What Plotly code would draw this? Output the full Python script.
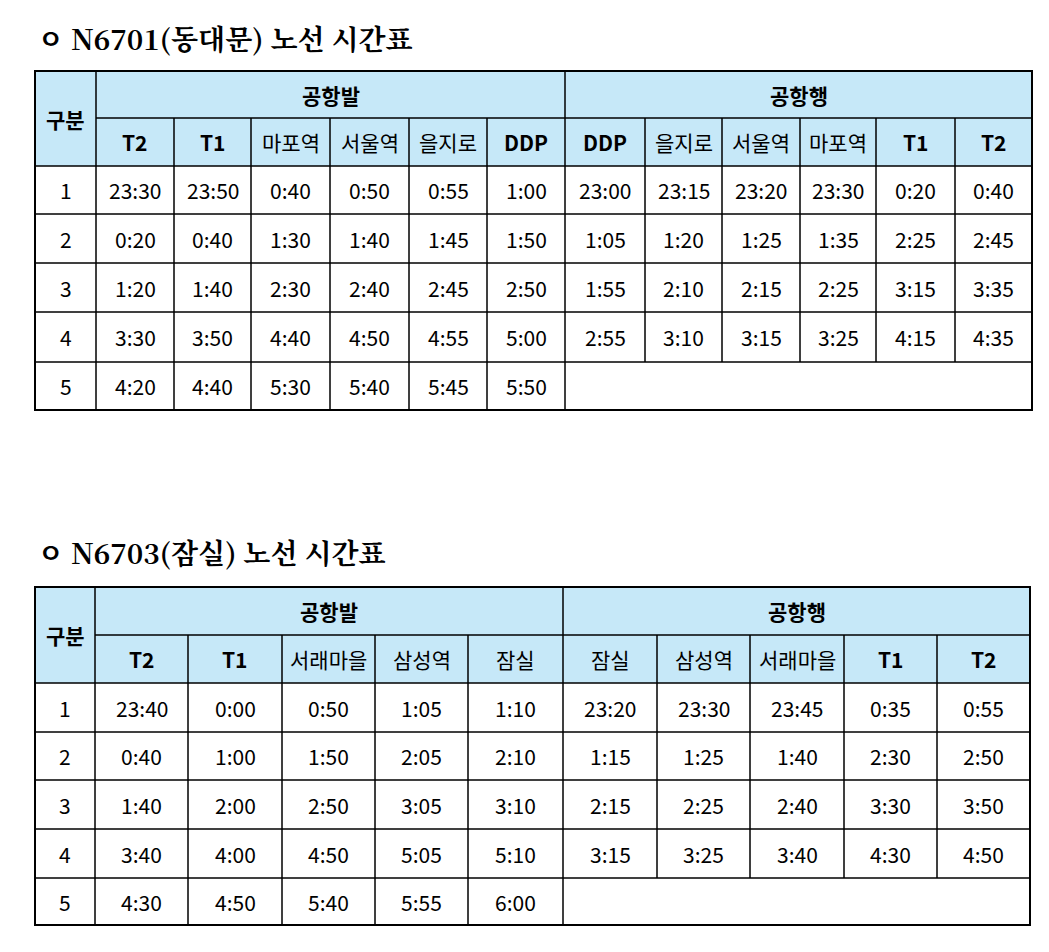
import plotly.graph_objects as go

# ---- data ----
title1 = "ㅇ N6701(동대문) 노선 시간표"
groups1 = ["공항발", "공항행"]
cols1 = ["T2", "T1", "마포역", "서울역", "을지로", "DDP", "DDP", "을지로", "서울역", "마포역", "T1", "T2"]
runs1 = ["1", "2", "3", "4", "5"]
times1 = [
    ["23:30", "23:50", "0:40", "0:50", "0:55", "1:00", "23:00", "23:15", "23:20", "23:30", "0:20", "0:40"],
    ["0:20", "0:40", "1:30", "1:40", "1:45", "1:50", "1:05", "1:20", "1:25", "1:35", "2:25", "2:45"],
    ["1:20", "1:40", "2:30", "2:40", "2:45", "2:50", "1:55", "2:10", "2:15", "2:25", "3:15", "3:35"],
    ["3:30", "3:50", "4:40", "4:50", "4:55", "5:00", "2:55", "3:10", "3:15", "3:25", "4:15", "4:35"],
    ["4:20", "4:40", "5:30", "5:40", "5:45", "5:50"],
]

title2 = "ㅇ N6703(잠실) 노선 시간표"
groups2 = ["공항발", "공항행"]
cols2 = ["T2", "T1", "서래마을", "삼성역", "잠실", "잠실", "삼성역", "서래마을", "T1", "T2"]
runs2 = ["1", "2", "3", "4", "5"]
times2 = [
    ["23:40", "0:00", "0:50", "1:05", "1:10", "23:20", "23:30", "23:45", "0:35", "0:55"],
    ["0:40", "1:00", "1:50", "2:05", "2:10", "1:15", "1:25", "1:40", "2:30", "2:50"],
    ["1:40", "2:00", "2:50", "3:05", "3:10", "2:15", "2:25", "2:40", "3:30", "3:50"],
    ["3:40", "4:00", "4:50", "5:05", "5:10", "3:15", "3:25", "3:40", "4:30", "4:50"],
    ["4:30", "4:50", "5:40", "5:55", "6:00"],
]

# ---- layout geometry (pixels) ----
FONT = "Noto Sans CJK KR"
HEAD = "#c6e8f8"
shapes, anns = [], []


def text(x, y, s, size=21, bold=False, anchor="center", family=FONT):
    anns.append(dict(x=x, y=y, xref="x", yref="y", text=f"<b>{s}</b>" if bold else s,
                     showarrow=False, xanchor=anchor, yanchor="middle",
                     font=dict(family=family, size=size, color="black")))


def rect(x0, y0, x1, y1, fill=None, w=1):
    shapes.append(dict(type="rect", x0=x0, y0=y0, x1=x1, y1=y1, xref="x", yref="y",
                       line=dict(color="black", width=w),
                       fillcolor=fill if fill else "rgba(0,0,0,0)", layer="below" if fill else "above"))


def table(title, title_y, xs, ys, groups, cols, runs, times):
    text(xs[0], title_y, title, size=28, bold=True, anchor="left", family="Noto Serif CJK KR, Noto Sans CJK KR")
    n = len(cols)
    half = n // 2
    rect(xs[0], ys[0], xs[-1], ys[2], fill=HEAD, w=0)
    rect(xs[0], ys[0], xs[1], ys[2])
    text((xs[0] + xs[1]) / 2, (ys[0] + ys[2]) / 2, "구분", bold=True)
    for g, (a, b) in zip(groups, [(1, half + 1), (half + 1, n + 1)]):
        rect(xs[a], ys[0], xs[b], ys[1])
        text((xs[a] + xs[b]) / 2, (ys[0] + ys[1]) / 2, g, bold=True)
    for i, c in enumerate(cols):
        rect(xs[i + 1], ys[1], xs[i + 2], ys[2])
        text((xs[i + 1] + xs[i + 2]) / 2, (ys[1] + ys[2]) / 2, c, bold=c.isascii())
    for r, (run, row) in enumerate(zip(runs, times)):
        y0, y1 = ys[r + 2], ys[r + 3]
        rect(xs[0], y0, xs[1], y1)
        text((xs[0] + xs[1]) / 2, (y0 + y1) / 2, run)
        for i, v in enumerate(row):
            rect(xs[i + 1], y0, xs[i + 2], y1)
            text((xs[i + 1] + xs[i + 2]) / 2, (y0 + y1) / 2, v)
        if len(row) < n:
            rect(xs[len(row) + 1], y0, xs[-1], y1)
    rect(xs[0], ys[0], xs[-1], ys[-1], w=2)


table(title1, 38, [35, 96, 174, 251, 330, 409, 487, 565, 645, 722, 800, 876, 955, 1032],
      [71, 118, 166, 214, 263, 312, 362, 410], groups1, cols1, runs1, times1)
table(title2, 552, [35, 95, 188, 282, 375, 468, 563, 657, 750, 844, 937, 1030],
      [587, 635, 683, 732, 780, 829, 878, 925], groups2, cols2, runs2, times2)

fig = go.Figure()
fig.update_layout(width=1049, height=952, margin=dict(l=0, r=0, t=0, b=0),
                  paper_bgcolor="white", plot_bgcolor="white",
                  shapes=shapes, annotations=anns, showlegend=False,
                  xaxis=dict(range=[8, 1057], visible=False, fixedrange=True),
                  yaxis=dict(range=[960, 8], visible=False, fixedrange=True))
fig.write_html("out.html")
